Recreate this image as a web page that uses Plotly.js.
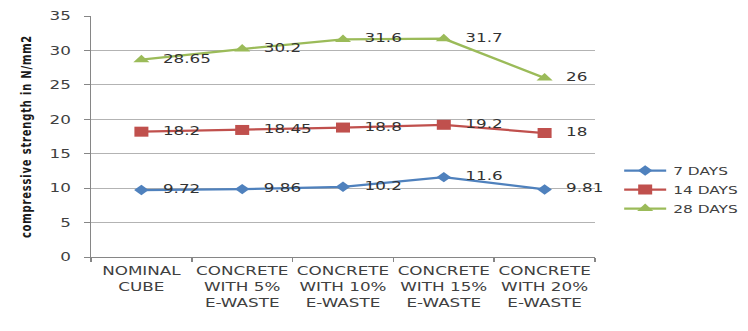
<!DOCTYPE html>
<html>
<head>
<meta charset="utf-8">
<script src="https://cdn.plot.ly/plotly-3.0.1.min.js"></script>
<style>
  html, body { margin: 0; padding: 0; background: #ffffff; }
  #wrap { width: 748px; height: 331px; overflow: hidden; }
  #chart { width: 534px; height: 331px; transform: scaleX(1.4); transform-origin: 0 0; }
  #chart .ytitle { letter-spacing: 0.8px; }
</style>
</head>
<body>
<div id="wrap"><div id="chart"></div></div>
<script>
// ---- data ----
const categories = [
  'NOMINAL<br>CUBE',
  'CONCRETE<br>WITH 5%<br>E-WASTE',
  'CONCRETE<br>WITH 10%<br>E-WASTE',
  'CONCRETE<br>WITH 15%<br>E-WASTE',
  'CONCRETE<br>WITH 20%<br>E-WASTE'
];
const seriesNames = ['7 DAYS', '14 DAYS', '28 DAYS'];
const days7 = [9.72, 9.86, 10.2, 11.6, 9.81];
const days14 = [18.2, 18.45, 18.8, 19.2, 18];
const days28 = [28.65, 30.2, 31.6, 31.7, 26];
const yTicks = [0, 5, 10, 15, 20, 25, 30, 35];
const yTitle = 'compressive strength in N/mm2';

// ---- styles ----
const colors = ['#4F81BD', '#C0504D', '#9BBB59'];
const symbols = ['diamond', 'square', 'triangle-up'];
const sizes = [8, 10, 10];
const allSeries = [days7, days14, days28];

const lineTraces = allSeries.map((vals, i) => ({
  type: 'scatter',
  mode: 'lines+markers',
  name: seriesNames[i],
  x: categories,
  y: vals,
  line: { color: colors[i], width: 2.25 },
  marker: { color: colors[i], symbol: symbols[i], size: sizes[i] },
  cliponaxis: false
}));

// data labels: drawn on the same points, with an invisible larger marker
// so the label sits a bit further to the right (as in the reference)
const labelTraces = allSeries.map((vals, i) => ({
  type: 'scatter',
  mode: 'markers+text',
  showlegend: false,
  hoverinfo: 'skip',
  x: categories,
  y: vals,
  text: vals.map(v => String(v)),
  textposition: 'middle right',
  textfont: { family: 'DejaVu Sans', size: 12, color: '#333333' },
  marker: { size: 23, opacity: 0, color: colors[i] },
  cliponaxis: false
}));

const layout = {
  width: 534,
  height: 331,
  margin: { l: 65, r: 109, t: 16, b: 74, autoexpand: false },
  paper_bgcolor: '#ffffff',
  plot_bgcolor: '#ffffff',
  showlegend: true,
  legend: {
    x: 1.044, xanchor: 'left', y: 0.28, yanchor: 'middle',
    font: { family: 'DejaVu Sans', size: 11, color: '#404040' },
    bgcolor: 'rgba(0,0,0,0)', itemwidth: 30, tracegroupgap: 0
  },
  xaxis: {
    type: 'category',
    range: [-0.5, 4.5],
    tickson: 'boundaries',
    tickangle: 0,
    ticks: 'outside', ticklen: 4, tickcolor: '#868686',
    ticklabelstandoff: 3,
    showline: true, linecolor: '#868686', linewidth: 1,
    showgrid: false,
    tickfont: { family: 'DejaVu Sans', size: 12, color: '#404040' },
    fixedrange: true
  },
  yaxis: {
    range: [0, 35],
    tickvals: yTicks,
    ticktext: yTicks.map(String),
    ticks: 'outside', ticklen: 4, tickcolor: '#868686',
    ticklabelstandoff: 7,
    showline: true, linecolor: '#868686', linewidth: 1,
    showgrid: true, gridcolor: '#b3b3b3', gridwidth: 1,
    zeroline: false,
    tickfont: { family: 'DejaVu Sans', size: 12, color: '#404040' },
    title: {
      text: yTitle,
      standoff: 10,
      font: { family: 'DejaVu Sans', size: 10, color: '#1a1a1a', weight: 'bold' }
    },
    fixedrange: true
  }
};

Plotly.newPlot('chart', lineTraces.concat(labelTraces), layout, { displayModeBar: false, staticPlot: true });
</script>
</body>
</html>
